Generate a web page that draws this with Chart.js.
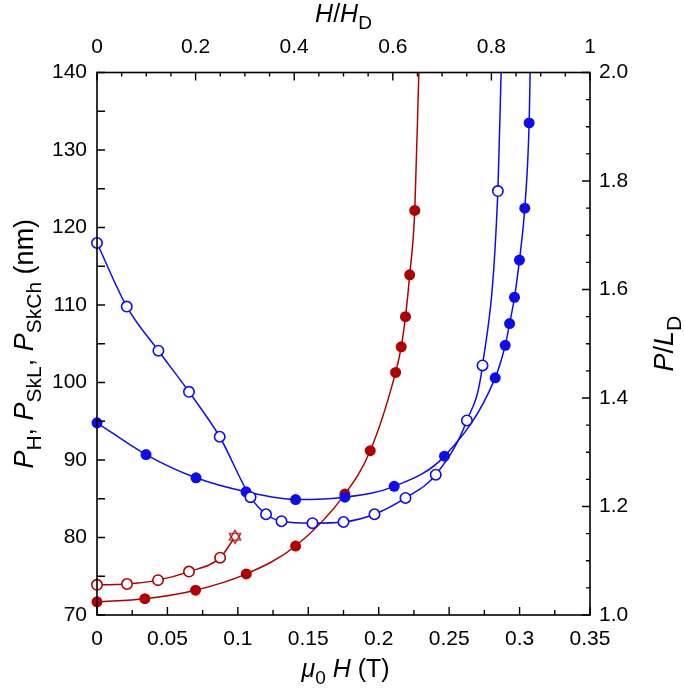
<!DOCTYPE html>
<html>
<head>
<meta charset="utf-8">
<script src="https://cdn.jsdelivr.net/npm/chart.js@4.4.1/dist/chart.umd.min.js"></script>
<style>
    html, body { margin: 0; padding: 0; background: #fff; }
</style>
</head>
<body>
<canvas id="periodChart" width="685" height="695"></canvas>
<script>
// ==== DATA (field in T, period in nm) ====
// helical phase, filled red
const helixH = [0, 0.034, 0.070, 0.106, 0.141, 0.176, 0.194, 0.212, 0.216, 0.219, 0.222, 0.2256, 0.2285];
const helixP = [71.7, 72.1, 73.2, 75.3, 78.9, 85.6, 91.2, 101.3, 104.6, 108.5, 113.9, 122.2, 140];
// helical phase, open red (last point = star)
const helixOpenH = [0, 0.0213, 0.0433, 0.0653, 0.0874, 0.098];
const helixOpenP = [73.9, 74.0, 74.5, 75.6, 77.4, 80.1];
// skyrmion lattice, filled blue
const sklH = [0, 0.0348, 0.0703, 0.1058, 0.141, 0.176, 0.211, 0.2467, 0.2827, 0.2898, 0.2929, 0.2964, 0.2999, 0.3037, 0.3068, 0.3075];
const sklP = [94.8, 90.7, 87.7, 85.9, 84.9, 85.2, 86.6, 90.5, 100.6, 104.8, 107.6, 111.0, 115.8, 122.5, 133.5, 140];
// skyrmion chain, open blue
const skchH = [0, 0.0211, 0.0436, 0.0653, 0.0871, 0.109, 0.120, 0.131, 0.153, 0.175, 0.197, 0.219, 0.2405, 0.2626, 0.2737, 0.2846, 0.2869];
const skchP = [118.0, 109.8, 104.1, 98.8, 93.0, 85.2, 83.0, 82.1, 81.85, 82.0, 83.0, 85.1, 88.1, 95.1, 102.2, 124.7, 140];

// ==== TICKS ====
const fieldTicks = [0, 0.05, 0.1, 0.15, 0.2, 0.25, 0.3, 0.35];
const fieldMinor = [0.025, 0.075, 0.125, 0.175, 0.225, 0.275, 0.325];
const reducedTicks = [0, 0.2, 0.4, 0.6, 0.8, 1];
const reducedMinor = [0.05, 0.1, 0.15, 0.25, 0.3, 0.35, 0.45, 0.5, 0.55, 0.65, 0.7, 0.75, 0.85, 0.9, 0.95];
const periodTicks = [70, 80, 90, 100, 110, 120, 130, 140];
const periodMinor = [75, 85, 95, 105, 115, 125, 135];
const ratioTicks = [1.0, 1.2, 1.4, 1.6, 1.8, 2.0];
const ratioMinor = [1.05, 1.1, 1.15, 1.25, 1.3, 1.35, 1.45, 1.5, 1.55, 1.65, 1.7, 1.75, 1.85, 1.9, 1.95];

const RED = '#b00000';
const BLUE = '#0c0cf0';
const FONT = '"Liberation Sans", Arial, Helvetica, sans-serif';

function toPoints(xs, ys) {
    return xs.map((x, i) => ({ x: x, y: ys[i] }));
}

// hide the point used only to carry the curve up to the frame
function radiusUnlessLast(r, n) {
    return ctx => (ctx.dataIndex === n - 1 ? 0 : r);
}

// six-pointed star marker
function makeStar() {
    const c = document.createElement('canvas');
    c.width = 16; c.height = 16;
    const g = c.getContext('2d');
    g.strokeStyle = RED;
    g.fillStyle = '#fff';
    g.lineWidth = 1.2;
    const r = 6.5;
    const tri = a0 => {
        g.beginPath();
        for (let k = 0; k < 3; k++) {
            const a = a0 + k * 2 * Math.PI / 3;
            const px = 8 + r * Math.cos(a), py = 8 + r * Math.sin(a);
            if (k === 0) g.moveTo(px, py); else g.lineTo(px, py);
        }
        g.closePath();
    };
    tri(-Math.PI / 2); g.fill();
    tri(Math.PI / 2); g.fill();
    tri(-Math.PI / 2); g.stroke();
    tri(Math.PI / 2); g.stroke();
    return c;
}

// rich text with italic letters and subscripts
function drawRich(ctx, parts, x, y, rot, size, subScale) {
    const fontOf = p => (p.i ? 'italic ' : '') + (p.sub ? Math.round(size * subScale) : size) + 'px ' + FONT;
    ctx.save();
    ctx.translate(x, y);
    ctx.rotate(rot);
    ctx.fillStyle = '#000';
    ctx.textBaseline = 'alphabetic';
    ctx.textAlign = 'left';
    let total = 0;
    parts.forEach(p => { ctx.font = fontOf(p); total += ctx.measureText(p.t).width; });
    let cx = -total / 2;
    parts.forEach(p => {
        ctx.font = fontOf(p);
        ctx.fillText(p.t, cx, p.sub ? size * 0.28 : 0);
        cx += ctx.measureText(p.t).width;
    });
    ctx.restore();
}

const framePlugin = {
    id: 'frame',
    afterDraw(chart) {
        const ctx = chart.ctx;
        const a = chart.chartArea;
        const s = chart.scales;
        ctx.save();
        ctx.strokeStyle = '#000';
        ctx.lineWidth = 1.6;
        ctx.strokeRect(a.left, a.top, a.right - a.left, a.bottom - a.top);
        ctx.lineWidth = 1.4;
        ctx.beginPath();
        const vTick = (sc, vals, len, xEdge, dir) => vals.forEach(v => {
            const py = sc.getPixelForValue(v);
            ctx.moveTo(xEdge, py); ctx.lineTo(xEdge + dir * len, py);
        });
        const hTick = (sc, vals, len, yEdge, dir) => vals.forEach(v => {
            const px = sc.getPixelForValue(v);
            ctx.moveTo(px, yEdge); ctx.lineTo(px, yEdge + dir * len);
        });
        vTick(s.y, periodTicks, 8, a.left, 1);
        vTick(s.y, periodMinor, 8, a.left, 1);
        vTick(s.y2, ratioTicks, 8, a.right, -1);
        vTick(s.y2, ratioMinor, 4, a.right, -1);
        hTick(s.x, fieldTicks, 8, a.bottom, -1);
        hTick(s.x, fieldMinor, 5, a.bottom, -1);
        hTick(s.x2, reducedTicks, 8, a.top, 1);
        hTick(s.x2, reducedMinor, 4, a.top, 1);
        ctx.stroke();
        ctx.restore();

        const cxm = (a.left + a.right) / 2;
        const cym = (a.top + a.bottom) / 2;
        drawRich(ctx, [{ t: 'H', i: true }, { t: '/' }, { t: 'H', i: true }, { t: 'D', sub: true }], cxm, 22, 0, 25, 0.75);
        drawRich(ctx, [{ t: 'μ', i: true }, { t: '0', sub: true }, { t: ' ' }, { t: 'H', i: true }, { t: ' (T)' }], cxm + 2, 677, 0, 25, 0.75);
        drawRich(ctx, [
            { t: 'P', i: true }, { t: 'H', sub: true }, { t: ', ' },
            { t: 'P', i: true }, { t: 'SkL', sub: true }, { t: ', ' },
            { t: 'P', i: true }, { t: 'SkCh', sub: true }, { t: ' (nm)' }
        ], 33, cym, -Math.PI / 2, 27, 0.78);
        drawRich(ctx, [{ t: 'P', i: true }, { t: '/' }, { t: 'L', i: true }, { t: 'D', sub: true }], 673, cym, -Math.PI / 2, 27, 0.78);
    }
};

document.addEventListener('DOMContentLoaded', function () {
    const canvas = document.getElementById('periodChart');
    const ctx = canvas.getContext('2d');

    const lineBase = { showLine: true, borderWidth: 1.5, cubicInterpolationMode: 'monotone', clip: { left: 6, right: 6, top: 0, bottom: 6 } };

    new Chart(ctx, {
        type: 'scatter',
        data: {
            datasets: [
                Object.assign({}, lineBase, {
                    label: 'Skyrmion chain',
                    data: toPoints(skchH, skchP),
                    borderColor: BLUE, backgroundColor: '#fff',
                    pointRadius: radiusUnlessLast(5.2, skchH.length), pointBorderWidth: 1.6,
                    pointBorderColor: BLUE, pointBackgroundColor: '#fff'
                }),
                Object.assign({}, lineBase, {
                    label: 'Skyrmion lattice',
                    data: toPoints(sklH, sklP),
                    borderColor: BLUE, backgroundColor: BLUE,
                    pointRadius: radiusUnlessLast(5.5, sklH.length), pointBorderWidth: 0,
                    pointBackgroundColor: BLUE
                }),
                Object.assign({}, lineBase, {
                    label: 'Helix (open)',
                    data: toPoints(helixOpenH, helixOpenP),
                    borderColor: RED, backgroundColor: '#fff',
                    pointStyle: ctx => (ctx.dataIndex === helixOpenH.length - 1 ? makeStar() : 'circle'),
                    pointRadius: 5.2, pointBorderWidth: 1.6,
                    pointBorderColor: RED, pointBackgroundColor: '#fff'
                }),
                Object.assign({}, lineBase, {
                    label: 'Helix',
                    data: toPoints(helixH, helixP),
                    borderColor: RED, backgroundColor: RED,
                    pointRadius: radiusUnlessLast(5.5, helixH.length), pointBorderWidth: 0,
                    pointBackgroundColor: RED
                })
            ]
        },
        options: {
            responsive: false,
            animation: false,
            layout: { padding: 0 },
            plugins: { legend: { display: false }, tooltip: { enabled: false } },
            scales: {
                x: {
                    type: 'linear', position: 'bottom', min: 0, max: 0.35,
                    afterBuildTicks: sc => { sc.ticks = fieldTicks.map(v => ({ value: v })); },
                    afterFit: sc => { sc.height = 80; },
                    grid: { display: false }, border: { display: false },
                    ticks: { padding: 4, color: '#000', font: { family: FONT, size: 21 },
                        callback: v => String(+v.toFixed(3)) }
                },
                x2: {
                    type: 'linear', position: 'top', min: 0, max: 1,
                    afterBuildTicks: sc => { sc.ticks = reducedTicks.map(v => ({ value: v })); },
                    afterFit: sc => { sc.height = 72.5; },
                    grid: { display: false }, border: { display: false },
                    ticks: { padding: 5, color: '#000', font: { family: FONT, size: 21 },
                        callback: v => String(+v.toFixed(2)) }
                },
                y: {
                    type: 'linear', position: 'left', min: 70, max: 140,
                    afterBuildTicks: sc => { sc.ticks = periodTicks.map(v => ({ value: v })); },
                    afterFit: sc => { sc.width = 97; },
                    grid: { display: false }, border: { display: false },
                    ticks: { padding: 2, color: '#000', font: { family: FONT, size: 21 } }
                },
                y2: {
                    type: 'linear', position: 'right', min: 1.0, max: 2.0,
                    afterBuildTicks: sc => { sc.ticks = ratioTicks.map(v => ({ value: v })); },
                    afterFit: sc => { sc.width = 95; },
                    grid: { display: false }, border: { display: false },
                    ticks: { padding: 1, color: '#000', font: { family: FONT, size: 21 },
                        callback: v => v.toFixed(1) }
                }
            }
        },
        plugins: [framePlugin]
    });
});
</script>
</body>
</html>
